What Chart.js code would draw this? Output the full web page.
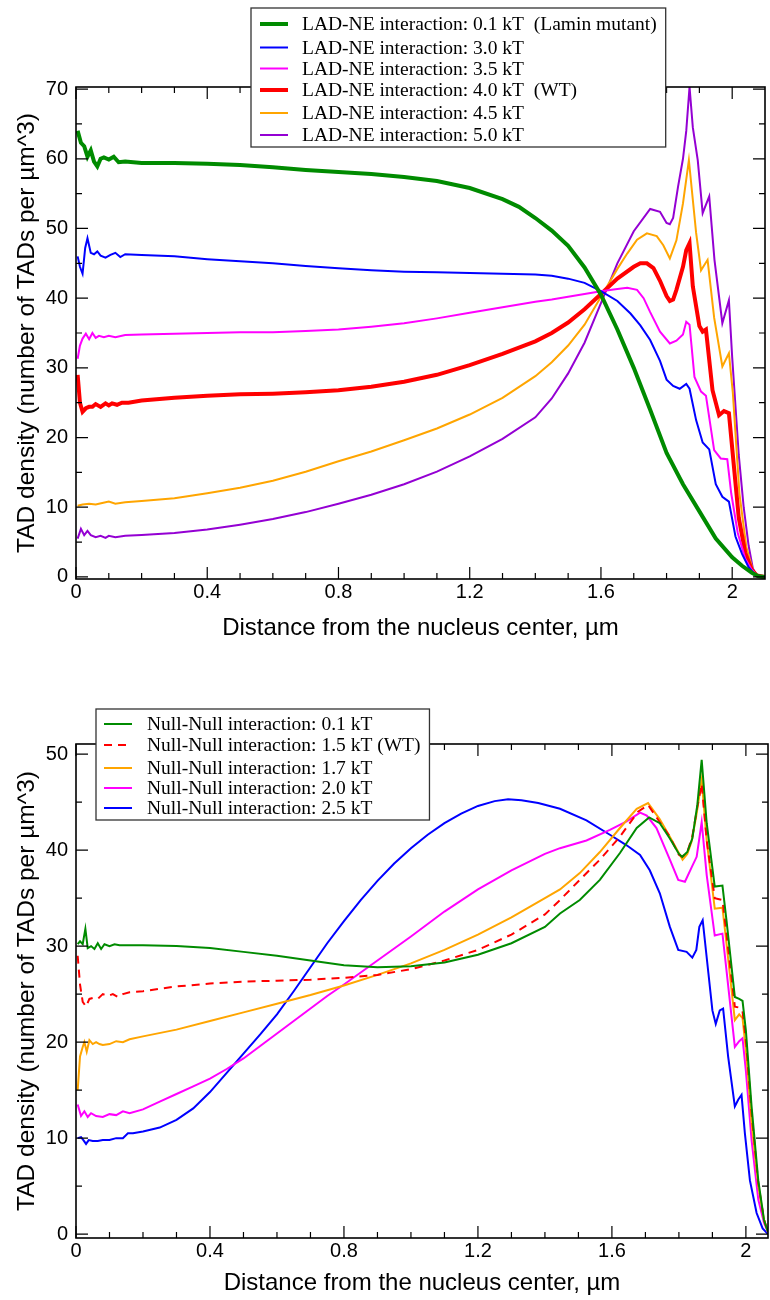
<!DOCTYPE html>
<html><head><meta charset="utf-8">
<script src="https://cdn.jsdelivr.net/npm/chart.js@4.4.1/dist/chart.umd.min.js"></script>
<style>
html,body{margin:0;padding:0;background:#fff;}
#wrap{position:relative;width:770px;height:1300px;background:#fff;}
canvas{position:absolute;left:0;}
</style></head><body>
<div id="wrap">
<canvas id="c1" width="770" height="660" style="top:0"></canvas>
<canvas id="c2" width="770" height="640" style="top:660px"></canvas>
</div>
<script>
// ---------- shared axis text ----------
const xTitle = 'Distance from the nucleus center, \u00b5m';
const yTitle = 'TAD density (number of TADs per \u00b5m^3)';
const xMinorTicks = [0,0.1,0.2,0.3,0.4,0.5,0.6,0.7,0.8,0.9,1.0,1.1,1.2,1.3,1.4,1.5,1.6,1.7,1.8,1.9,2.0];
const xMajorTicks = [0,0.4,0.8,1.2,1.6,2.0];
const xMajorLabels = ['0','0.4','0.8','1.2','1.6','2'];
const topYTicks = [0,5,10,15,20,25,30,35,40,45,50,55,60,65,70];
const topYMajor = [0,10,20,30,40,50,60,70];
const topYLabels = ['0','10','20','30','40','50','60','70'];
const botYTicks = [0,5,10,15,20,25,30,35,40,45,50];
const botYMajor = [0,10,20,30,40,50];
const botYLabels = ['0','10','20','30','40','50'];

// ---------- top chart: LAD-NE interaction ----------
const topLabels = ['LAD-NE interaction: 0.1 kT  (Lamin mutant)','LAD-NE interaction: 3.0 kT','LAD-NE interaction: 3.5 kT','LAD-NE interaction: 4.0 kT  (WT)','LAD-NE interaction: 4.5 kT','LAD-NE interaction: 5.0 kT'];

const lad01X = [0.005,0.015,0.025,0.035,0.045,0.055,0.065,0.075,0.085,0.1,0.115,0.13,0.15,0.2,0.3,0.4,0.5,0.6,0.7,0.8,0.9,1.0,1.1,1.2,1.3,1.35,1.4,1.45,1.5,1.55,1.6,1.65,1.7,1.75,1.8,1.85,1.9,1.95,2.0,2.03,2.06,2.08,2.1];
const lad01Y = [64,62.3,61.8,60.3,61.2,59.6,58.9,60,60.2,59.9,60.3,59.5,59.6,59.4,59.4,59.3,59.1,58.8,58.4,58.1,57.8,57.4,56.8,55.8,54.2,53.1,51.5,49.7,47.5,44.4,40.5,35.5,30,24,17.8,13.3,9.4,5.5,2.8,1.6,0.6,0.1,0];

const lad30X = [0.005,0.012,0.02,0.028,0.035,0.045,0.055,0.065,0.075,0.09,0.105,0.12,0.135,0.15,0.2,0.3,0.4,0.5,0.6,0.7,0.8,0.9,1.0,1.1,1.2,1.3,1.4,1.45,1.5,1.55,1.6,1.65,1.69,1.72,1.75,1.78,1.8,1.82,1.84,1.86,1.87,1.89,1.91,1.93,1.95,1.97,1.99,2.01,2.03,2.05,2.07,2.1];
const lad30Y = [46,44.5,43.5,47.2,48.6,46.5,46.3,46.7,46.1,45.8,46.2,46.5,45.9,46.3,46.2,46,45.6,45.3,45,44.6,44.3,44,43.8,43.7,43.6,43.5,43.4,43.2,42.8,42.2,41,39.6,37.8,36.1,34,31,28.3,27.4,27,27.7,27,22.5,19.3,18.3,13.3,11.5,10.8,5.8,3.3,1.4,0.3,0];

const lad35X = [0.005,0.012,0.02,0.03,0.04,0.05,0.06,0.07,0.085,0.1,0.12,0.15,0.2,0.3,0.4,0.5,0.6,0.7,0.8,0.9,1.0,1.1,1.2,1.3,1.4,1.45,1.5,1.55,1.6,1.65,1.68,1.71,1.73,1.75,1.78,1.81,1.83,1.85,1.86,1.87,1.885,1.905,1.92,1.945,1.965,1.985,1.997,2.017,2.04,2.06,2.075,2.1];
const lad35Y = [31.3,33.2,34.2,34.9,34.1,35,34.3,34.6,34.4,34.6,34.4,34.7,34.8,34.9,35,35.1,35.1,35.3,35.5,35.9,36.4,37.1,37.9,38.7,39.5,39.8,40.2,40.6,41,41.3,41.5,41.2,40,38,35.2,33.5,33.9,34.8,36.6,36.2,28.7,26.6,26,18.2,17,16.9,12,6.3,2.6,1,0.2,0];

const lad40X = [0.005,0.012,0.02,0.03,0.04,0.05,0.06,0.075,0.09,0.1,0.11,0.125,0.14,0.16,0.2,0.3,0.4,0.5,0.6,0.7,0.8,0.9,1.0,1.1,1.2,1.3,1.4,1.45,1.5,1.55,1.6,1.65,1.7,1.72,1.74,1.76,1.78,1.8,1.81,1.82,1.83,1.85,1.86,1.87,1.88,1.9,1.91,1.92,1.94,1.96,1.975,1.99,2.0,2.02,2.04,2.06,2.075,2.1];
const lad40Y = [29,25,23.7,24.2,24.4,24.4,24.8,24.4,24.9,24.6,24.9,24.7,25,25,25.3,25.7,26,26.2,26.3,26.5,26.8,27.3,28,29,30.4,32,33.8,35,36.5,38.4,40.6,42.8,44.5,45,45,44.3,42.5,40.3,39.6,39.8,41.2,44.5,46.9,47.9,41.7,36,35.2,35.5,26.8,23.2,23.8,23.5,18.5,8.5,3.4,1,0.2,0];

const lad45X = [0.005,0.02,0.04,0.06,0.08,0.1,0.12,0.15,0.2,0.3,0.4,0.5,0.6,0.7,0.8,0.9,1.0,1.1,1.2,1.3,1.4,1.45,1.5,1.55,1.6,1.65,1.68,1.71,1.74,1.77,1.79,1.81,1.83,1.85,1.868,1.89,1.905,1.925,1.945,1.97,1.99,2.002,2.022,2.043,2.063,2.075,2.1];
const lad45Y = [10.2,10.4,10.5,10.4,10.6,10.8,10.5,10.7,10.9,11.3,12,12.8,13.8,15.1,16.6,18,19.6,21.3,23.3,25.7,28.8,30.8,33.2,36.2,40.2,44.2,46.4,48.4,49.3,48.9,47.6,45.7,48.3,53.6,59.8,49.4,44,45.5,37.2,30.2,32.1,26.4,12,4.3,1,0.2,0];

const lad50X = [0.005,0.015,0.025,0.035,0.045,0.06,0.075,0.09,0.1,0.12,0.15,0.2,0.3,0.4,0.5,0.6,0.7,0.8,0.9,1.0,1.1,1.2,1.3,1.4,1.45,1.5,1.55,1.6,1.65,1.7,1.75,1.78,1.8,1.81,1.82,1.835,1.85,1.86,1.87,1.88,1.895,1.91,1.93,1.946,1.97,1.99,2.0,2.02,2.035,2.05,2.063,2.075,2.1];
const lad50Y = [5.5,6.9,6,6.6,6,5.7,5.9,5.6,5.9,5.7,5.9,6,6.3,6.8,7.5,8.3,9.3,10.5,11.8,13.3,15.1,17.3,19.8,22.9,25.6,29.2,33.6,39.3,45,49.6,52.8,52.4,50.8,50.6,51.5,56,60,64,70.3,64.5,59.8,52.2,54.6,45.5,36.4,39.7,31.5,17.5,10,4.5,1.2,0.2,0];

// ---------- bottom chart: Null-Null interaction ----------
const botLabels = ['Null-Null interaction: 0.1 kT','Null-Null interaction: 1.5 kT (WT)','Null-Null interaction: 1.7 kT','Null-Null interaction: 2.0 kT','Null-Null interaction: 2.5 kT'];

const nn01X = [0.005,0.012,0.02,0.028,0.035,0.045,0.055,0.065,0.075,0.085,0.1,0.115,0.13,0.15,0.2,0.3,0.4,0.5,0.6,0.7,0.8,0.9,1.0,1.1,1.2,1.3,1.4,1.445,1.504,1.564,1.624,1.674,1.711,1.743,1.773,1.8,1.81,1.825,1.84,1.855,1.868,1.883,1.907,1.93,1.942,1.967,1.98,1.99,2.0,2.017,2.037,2.054,2.066];
const nn01Y = [30.2,30.5,30.2,31.8,29.8,30,29.7,30.3,29.7,30.2,30,30.2,30.1,30.1,30.1,30,29.8,29.4,29,28.5,28,27.8,27.9,28.3,29.1,30.3,32,33.4,34.8,36.9,39.7,42.3,43.4,42.8,41.2,39.6,39.3,39.8,41.2,44.7,49.4,42.8,36.2,36.3,32.7,24.7,24.5,24.3,21.2,13.3,5.6,1.5,0.2];

const nn15X = [0.005,0.012,0.02,0.03,0.04,0.05,0.065,0.08,0.095,0.11,0.125,0.14,0.16,0.2,0.3,0.4,0.5,0.6,0.7,0.8,0.9,1.0,1.1,1.2,1.3,1.4,1.445,1.504,1.564,1.624,1.678,1.708,1.743,1.773,1.8,1.81,1.825,1.84,1.855,1.868,1.883,1.907,1.93,1.942,1.967,1.98,1.99,2.0,2.017,2.037,2.054,2.066];
const nn15Y = [29,26,24.2,23.7,24.5,24.6,24.5,25,24.8,25,24.7,25,25.2,25.3,25.8,26.1,26.3,26.4,26.5,26.7,27,27.6,28.5,29.6,31.2,33.3,34.8,36.9,39,41.4,44,44.7,42.9,41.4,39.5,39.3,39.8,41.4,44.5,46.9,41,35,34.8,31.3,23.7,23.6,23.2,20.2,12.6,5.3,1.5,0.2];

const nn17X = [0.005,0.012,0.02,0.025,0.032,0.04,0.05,0.06,0.07,0.08,0.1,0.12,0.14,0.16,0.2,0.3,0.4,0.5,0.6,0.7,0.8,0.9,1.0,1.1,1.2,1.3,1.4,1.445,1.504,1.564,1.624,1.674,1.708,1.743,1.773,1.811,1.825,1.838,1.853,1.868,1.883,1.907,1.93,1.942,1.967,1.98,1.99,2.0,2.017,2.037,2.054,2.066];
const nn17Y = [15,18.5,19.5,20,19,20.2,19.8,20,19.8,19.7,19.8,20.1,20,20.3,20.6,21.3,22.2,23.1,24,24.9,25.9,27,28.2,29.6,31.2,33,35,35.9,37.6,39.8,42.3,44.3,44.9,43.2,41.4,39,39.6,40.9,43.8,47.3,41,33.9,34,30.3,22.3,22.9,22.5,19.2,11.6,5,1.5,0.2];

const nn20X = [0.005,0.015,0.025,0.035,0.045,0.06,0.08,0.1,0.12,0.14,0.16,0.2,0.25,0.3,0.35,0.4,0.45,0.5,0.55,0.6,0.65,0.7,0.75,0.8,0.9,1.0,1.1,1.2,1.3,1.4,1.445,1.524,1.594,1.644,1.684,1.704,1.733,1.773,1.798,1.818,1.838,1.853,1.868,1.883,1.907,1.93,1.942,1.967,1.98,1.99,2.0,2.017,2.037,2.054,2.066];
const nn20Y = [13.5,12.3,12.8,12.2,12.6,12.3,12.2,12.5,12.4,12.8,12.6,13,13.8,14.6,15.4,16.2,17.2,18.3,19.6,20.9,22.2,23.5,24.8,26,28.5,31,33.6,35.9,37.9,39.6,40.2,41,42.1,43,43.9,43.6,42.3,39,36.9,36.7,38.2,39.3,42.9,37.4,31.1,31.3,27.5,19.5,20.1,20.4,17,9.8,3.6,1.2,0.2];

const nn25X = [0.005,0.015,0.022,0.03,0.038,0.05,0.065,0.08,0.1,0.12,0.14,0.155,0.17,0.2,0.25,0.3,0.35,0.4,0.45,0.5,0.55,0.6,0.65,0.7,0.75,0.8,0.85,0.9,0.95,1.0,1.05,1.1,1.15,1.2,1.25,1.29,1.33,1.38,1.445,1.524,1.594,1.644,1.684,1.713,1.743,1.773,1.798,1.823,1.84,1.852,1.861,1.871,1.888,1.9,1.91,1.922,1.932,1.947,1.967,1.977,1.987,1.997,2.012,2.032,2.05,2.066];
const nn25Y = [10,10.1,9.8,9.4,9.8,9.7,9.7,9.8,9.8,10,10,10.5,10.5,10.7,11.1,11.9,13.1,14.8,16.8,18.8,20.8,22.9,25.3,27.8,30.3,32.6,34.8,36.8,38.6,40.2,41.6,42.8,43.8,44.6,45.1,45.3,45.2,44.9,44.3,43.1,41.6,40.5,39.5,37.9,35.5,32,29.6,29.4,28.8,29.6,32,32.7,27.2,23.3,21.9,23.3,23.5,18.5,13.3,14,14.5,10.5,5.6,2.2,0.6,0];

// ---------- helpers ----------
const pts = (xs, ys) => xs.map((x, i) => ({x: x, y: ys[i]}));
function ds(label, xs, ys, color, width, dash) {
  return {label: label, data: pts(xs, ys), borderColor: color, backgroundColor: color,
    borderWidth: width, borderDash: dash || [], pointRadius: 0, tension: 0, fill: false};
}
function labelFor(v, majors, labels) {
  for (let i = 0; i < majors.length; i++) if (Math.abs(majors[i] - v) < 1e-6) return labels[i];
  return '';
}
function isMajor(v, majors) { return majors.some(m => Math.abs(m - v) < 1e-6); }

const frameTicks = {
  id: 'frameTicks',
  afterDatasetsDraw(chart) {
    const {ctx, chartArea: a, scales} = chart;
    const xs = scales.x, ys = scales.y;
    const o = chart.options.plugins.frameTicks;
    ctx.save();
    ctx.strokeStyle = '#000';
    ctx.lineWidth = 1.2;
    ctx.beginPath();
    xs.ticks.forEach(t => {
      const p = xs.getPixelForValue(t.value);
      const L = isMajor(t.value, o.xMajor) ? 12 : 6;
      ctx.moveTo(p, a.bottom); ctx.lineTo(p, a.bottom - L);
      ctx.moveTo(p, a.top); ctx.lineTo(p, a.top + L);
    });
    ys.ticks.forEach(t => {
      const p = ys.getPixelForValue(t.value);
      const L = isMajor(t.value, o.yMajor) ? 12 : 6;
      ctx.moveTo(a.left, p); ctx.lineTo(a.left + L, p);
      ctx.moveTo(a.right, p); ctx.lineTo(a.right - L, p);
    });
    ctx.stroke();
    ctx.lineWidth = 1.6;
    ctx.strokeRect(a.left, a.top, a.right - a.left, a.bottom - a.top);
    ctx.restore();
  },
  afterDraw(chart) {
    const {ctx} = chart;
    const L = chart.options.plugins.boxLegend;
    ctx.save();
    ctx.font = L.font;
    let maxW = 0;
    chart.data.datasets.forEach(d => { maxW = Math.max(maxW, ctx.measureText(d.label).width); });
    const right = L.textX + maxW + 9;
    ctx.fillStyle = '#fff';
    ctx.fillRect(L.x0, L.y0, right - L.x0, L.y1 - L.y0);
    ctx.strokeStyle = '#333';
    ctx.lineWidth = 1.3;
    ctx.strokeRect(L.x0, L.y0, right - L.x0, L.y1 - L.y0);
    chart.data.datasets.forEach((d, i) => {
      const y = L.rows[i];
      ctx.strokeStyle = d.borderColor;
      ctx.lineWidth = d.borderWidth;
      ctx.setLineDash(d.borderDash || []);
      ctx.beginPath(); ctx.moveTo(L.s0, y); ctx.lineTo(L.s1, y); ctx.stroke();
      ctx.setLineDash([]);
      ctx.fillStyle = '#000';
      ctx.textBaseline = 'middle';
      ctx.textAlign = 'left';
      ctx.fillText(d.label, L.textX, y + 1);
    });
    ctx.restore();
  }
};

function makeOpts(cfg) {
  return {
    responsive: false, animation: false, devicePixelRatio: 1,
    layout: {padding: {top: cfg.padTop, right: cfg.padRight, left: 0, bottom: 0}},
    plugins: {
      legend: {display: false}, tooltip: {enabled: false},
      frameTicks: {xMajor: xMajorTicks, yMajor: cfg.yMajor},
      boxLegend: cfg.legend
    },
    scales: {
      x: {
        type: 'linear', min: 0, max: cfg.xMax,
        afterBuildTicks: s => { s.ticks = xMinorTicks.map(v => ({value: v})); },
        afterFit: s => { s.height = cfg.xAxisH; },
        grid: {display: false, drawTicks: false}, border: {display: false},
        ticks: {autoSkip: false, maxRotation: 0, padding: 1, color: '#000',
          font: {family: 'Liberation Sans', size: 20},
          callback: v => labelFor(v, xMajorTicks, xMajorLabels)},
        title: {display: true, text: xTitle, color: '#000',
          font: {family: 'Liberation Sans', size: 24}, padding: {top: 0, bottom: cfg.xTitlePad}}
      },
      y: {
        type: 'linear', min: cfg.yMin, max: cfg.yMax,
        afterBuildTicks: s => { s.ticks = cfg.yTicks.map(v => ({value: v})); },
        afterFit: s => { s.width = 76; },
        grid: {display: false, drawTicks: false}, border: {display: false},
        ticks: {autoSkip: false, padding: 8, color: '#000',
          font: {family: 'Liberation Sans', size: 20},
          callback: v => labelFor(v, cfg.yMajor, cfg.yLabels)},
        title: {display: true, text: yTitle, color: '#000',
          font: {family: 'Liberation Sans', size: 24.5}, padding: {top: 13, bottom: 0}}
      }
    }
  };
}

new Chart(document.getElementById('c1'), {
  type: 'line',
  data: {datasets: [
    ds(topLabels[0], lad01X, lad01Y, '#008b00', 4),
    ds(topLabels[1], lad30X, lad30Y, '#0000ff', 2),
    ds(topLabels[2], lad35X, lad35Y, '#ff00ff', 2),
    ds(topLabels[3], lad40X, lad40Y, '#ff0000', 4),
    ds(topLabels[4], lad45X, lad45Y, '#ffa500', 2),
    ds(topLabels[5], lad50X, lad50Y, '#9400d3', 2)
  ]},
  options: makeOpts({padTop: 87, padRight: 5, xMax: 2.1, xAxisH: 81, xTitlePad: 17,
    yMin: -0.3, yMax: 70.3, yTicks: topYTicks, yMajor: topYMajor, yLabels: topYLabels,
    legend: {x0: 251, y0: 8, y1: 147, s0: 260, s1: 288, textX: 302,
      rows: [24, 47.5, 68.5, 90, 113, 135], font: '19.5px "Liberation Serif"'}}),
  plugins: [frameTicks]
});

new Chart(document.getElementById('c2'), {
  type: 'line',
  data: {datasets: [
    ds(botLabels[0], nn01X, nn01Y, '#008b00', 2),
    ds(botLabels[1], nn15X, nn15Y, '#ff0000', 2, [8, 6]),
    ds(botLabels[2], nn17X, nn17Y, '#ffa500', 2),
    ds(botLabels[3], nn20X, nn20Y, '#ff00ff', 2),
    ds(botLabels[4], nn25X, nn25Y, '#0000ff', 2)
  ]},
  options: makeOpts({padTop: 84, padRight: 2, xMax: 2.066, xAxisH: 62, xTitlePad: 2,
    yMin: -0.4, yMax: 51.05, yTicks: botYTicks, yMajor: botYMajor, yLabels: botYLabels,
    legend: {x0: 96, y0: 49, y1: 160, s0: 104, s1: 132, textX: 147,
      rows: [64, 85, 108, 128, 148], font: '19.5px "Liberation Serif"'}}),
  plugins: [frameTicks]
});
</script>
</body></html>
